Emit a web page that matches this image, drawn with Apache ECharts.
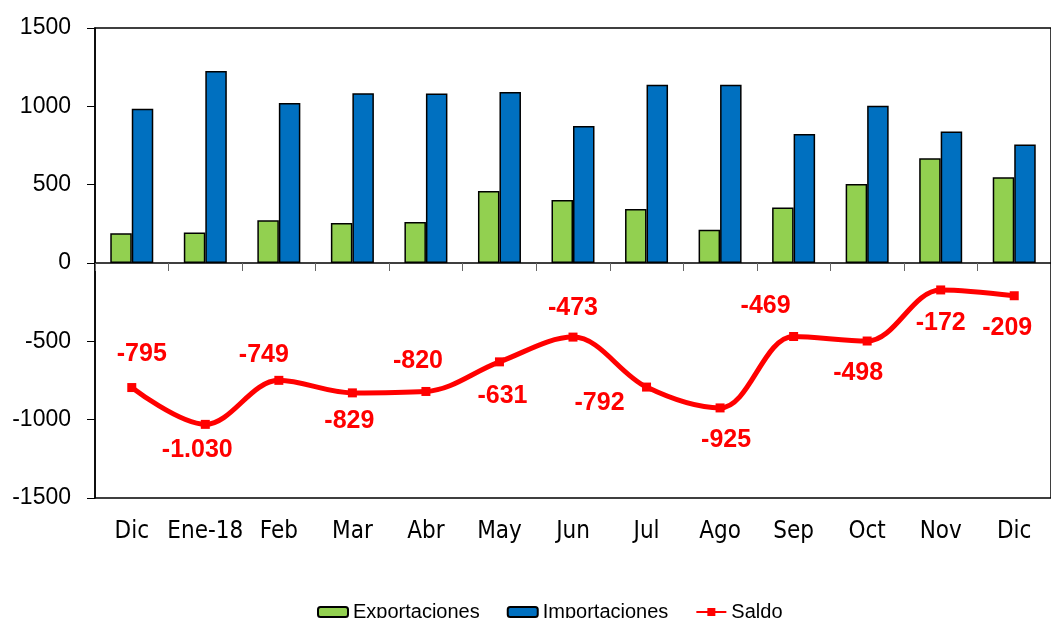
<!DOCTYPE html>
<html>
<head>
<meta charset="utf-8">
<script src="https://cdn.jsdelivr.net/npm/echarts@6/dist/echarts.min.js"></script>
<style>
  html, body { margin: 0; padding: 0; background: #fff; }
  #chart { width: 1051px; height: 618px; }
</style>
</head>
<body>
<div id="chart"></div>
<script>
// Exportaciones / Importaciones (barras) y Saldo (línea)
const months = ['Dic', 'Ene-18', 'Feb', 'Mar', 'Abr', 'May', 'Jun', 'Jul', 'Ago', 'Sep', 'Oct', 'Nov', 'Dic']
const exportaciones = [190, 195, 273, 255, 262, 460, 402, 345, 212, 355, 505, 668, 548]
const importaciones = [985, 1225, 1022, 1084, 1082, 1091, 875, 1137, 1137, 824, 1003, 840, 757]
const saldo = [-795, -1030, -749, -829, -820, -631, -473, -792, -925, -469, -498, -172, -209]

// desplazamiento de cada etiqueta del saldo respecto al punto
const labelOffsets = [
  [10, -33], [-8, 26], [-15, -25], [-3, 28], [-8, -30], [3, 34], [0, -29],
  [-47, 16], [6, 32], [-28, -30], [-9, 32], [0, 33], [-7, 32]
]

const fmt = (v) => {
  const s = Math.abs(v).toString().replace(/\B(?=(\d{3})+(?!\d))/g, '.')
  return (v < 0 ? '-' : '') + s
}

const chart = echarts.init(document.getElementById('chart'))

const option = {
  animation: false,
  backgroundColor: '#fff',
  grid: {
    left: 95,
    top: 28,
    width: 968,
    height: 470,
    show: true,
    borderColor: '#000',
    borderWidth: 1.5
  },
  legend: {
    left: 312,
    top: 597,
    itemWidth: 30,
    itemHeight: 10,
    itemGap: 27,
    textStyle: { fontFamily: 'Liberation Sans, Arial', fontSize: 20, color: '#000' },
    data: ['Exportaciones', 'Importaciones', 'Saldo']
  },
  xAxis: [
    {
      type: 'category',
      data: months,
      axisLine: { onZero: true, lineStyle: { color: '#000', width: 1.5 } },
      axisTick: { show: true, length: 8, lineStyle: { color: '#666' } },
      axisLabel: { show: false }
    },
    {
      type: 'category',
      data: months,
      position: 'bottom',
      axisLine: { show: false, onZero: false },
      axisTick: { show: false },
      axisLabel: {
        interval: 0,
        margin: 22,
        fontFamily: 'Liberation Sans Narrow, DejaVu Sans Condensed, Liberation Sans',
        fontSize: 24,
        color: '#000'
      }
    }
  ],
  yAxis: {
    type: 'value',
    min: -1500,
    max: 1500,
    interval: 500,
    splitLine: { show: false },
    axisLine: { show: true, lineStyle: { color: '#000', width: 1.5 } },
    axisTick: { show: true, length: 8, lineStyle: { color: '#000' } },
    axisLabel: {
      margin: 24,
      fontFamily: 'Liberation Sans, Arial',
      fontSize: 23,
      color: '#000',
      formatter: (v) => String(v)
    }
  },
  series: [
    {
      name: 'Exportaciones',
      type: 'bar',
      xAxisIndex: 0,
      barWidth: 21.5,
      barGap: '0%',
      itemStyle: { color: '#92D050', borderColor: '#000', borderWidth: 1.5 },
      data: exportaciones
    },
    {
      name: 'Importaciones',
      type: 'bar',
      xAxisIndex: 0,
      barWidth: 21.5,
      barGap: '0%',
      itemStyle: { color: '#0070C0', borderColor: '#000', borderWidth: 1.5 },
      data: importaciones
    },
    {
      name: 'Saldo',
      type: 'line',
      xAxisIndex: 0,
      smooth: 0.35,
      symbol: 'rect',
      symbolSize: 9,
      lineStyle: { color: '#FF0000', width: 5 },
      itemStyle: { color: '#FF0000' },
      label: {
        show: true,
        position: 'inside',
        fontFamily: 'Liberation Sans, Arial',
        fontWeight: 'bold',
        fontSize: 25,
        color: '#FF0000',
        formatter: (p) => fmt(p.value)
      },
      data: saldo.map((v, i) => ({ value: v, label: { offset: labelOffsets[i] } }))
    }
  ]
}

chart.setOption(option)
</script>
</body>
</html>
